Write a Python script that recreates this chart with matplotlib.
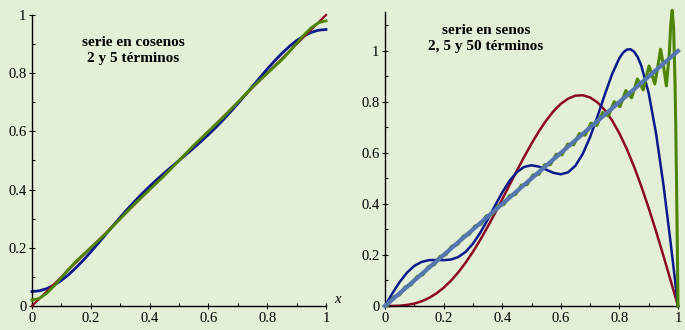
import matplotlib
matplotlib.use("Agg")
import matplotlib.pyplot as plt
from matplotlib.ticker import MultipleLocator

# --- left panel: cosine series of f(x)=x, 2 and 5 terms ---
line_x = [0, 1]
line_y = [0, 1]

cos_x2 = [0, 0.025, 0.05, 0.075, 0.1, 0.125, 0.15, 0.175, 0.2, 0.225, 0.25,
          0.275, 0.3, 0.325, 0.35, 0.375, 0.4, 0.425, 0.45, 0.475, 0.5,
          0.525, 0.55, 0.575, 0.6, 0.625, 0.65, 0.675, 0.7, 0.725, 0.75,
          0.775, 0.8, 0.825, 0.85, 0.875, 0.9, 0.925, 0.95, 0.975, 1]
cos_y2 = [0.0497, 0.0522, 0.0596, 0.0717, 0.0880, 0.1083, 0.1319, 0.1579,
          0.1860, 0.2153, 0.2452, 0.2752, 0.3046, 0.3331, 0.3605, 0.3865,
          0.4112, 0.4346, 0.4570, 0.4787, 0.5, 0.5213, 0.5430, 0.5654,
          0.5888, 0.6135, 0.6395, 0.6669, 0.6954, 0.7248, 0.7548, 0.7847,
          0.8140, 0.8421, 0.8681, 0.8917, 0.9120, 0.9283, 0.9404, 0.9478,
          0.9503]

cos_x5 = [0, 0.025, 0.05, 0.075, 0.1, 0.125, 0.15, 0.2, 0.25, 0.3, 0.35,
          0.4, 0.45, 0.5, 0.55, 0.6, 0.65, 0.7, 0.75, 0.8, 0.85, 0.875,
          0.9, 0.925, 0.95, 0.975, 1]
cos_y5 = [0.0202, 0.0263, 0.0436, 0.0687, 0.0977, 0.1268, 0.1537, 0.2008,
          0.2473, 0.2997, 0.3522, 0.4001, 0.4480, 0.5, 0.5520, 0.5999,
          0.6478, 0.7003, 0.7527, 0.7992, 0.8463, 0.8732, 0.9023, 0.9313,
          0.9564, 0.9737, 0.9798]

# --- right panel: sine series of f(x)=x, 2, 5 and 50 terms ---
sin_x2 = [i / 40 for i in range(41)]
sin_y2 = [0, 0.0002, 0.0012, 0.0041, 0.0096, 0.0185, 0.0315, 0.0490, 0.0715,
          0.0991, 0.1319, 0.1697, 0.2123, 0.2592, 0.3097, 0.3631, 0.4184,
          0.4745, 0.5304, 0.5849, 0.6366, 0.6845, 0.7272, 0.7635, 0.7926,
          0.8132, 0.8248, 0.8264, 0.8178, 0.7985, 0.7685, 0.7278, 0.6769,
          0.6163, 0.5465, 0.4687, 0.3838, 0.2931, 0.1980, 0.0997, 0]

sin_x5 = [0, 0.025, 0.05, 0.075, 0.1, 0.125, 0.15, 0.175, 0.2, 0.225, 0.25,
          0.275, 0.3, 0.325, 0.35, 0.375, 0.4, 0.425, 0.45, 0.475, 0.5,
          0.525, 0.55, 0.575, 0.6, 0.625, 0.65, 0.675, 0.7, 0.725, 0.75,
          0.775, 0.8, 0.8125, 0.825, 0.8375, 0.85, 0.8625, 0.875, 0.9,
          0.925, 0.95, 0.975, 1]
sin_y5 = [0, 0.0493, 0.0940, 0.1308, 0.1572, 0.1730, 0.1798, 0.1805, 0.1798,
          0.1821, 0.1919, 0.2121, 0.2441, 0.2870, 0.3378, 0.3923, 0.4450,
          0.4906, 0.5249, 0.5454, 0.5517, 0.5466, 0.5346, 0.5221, 0.5165,
          0.5241, 0.5502, 0.5967, 0.6625, 0.7426, 0.8285, 0.9092, 0.9723,
          0.9932, 1.0053, 1.0070, 0.9975, 0.9760, 0.9415, 0.8342, 0.6773,
          0.4779, 0.2471, 0]

sin_x50 = [0, 0.0099, 0.0297, 0.0495, 0.0693, 0.0891, 0.1089, 0.1287, 0.1485,
           0.1683, 0.1881, 0.2079, 0.2277, 0.2475, 0.2673, 0.2871, 0.3069,
           0.3267, 0.3465, 0.3663, 0.3861, 0.4059, 0.4257, 0.4455, 0.4653,
           0.4851, 0.5050, 0.5248, 0.5446, 0.5644, 0.5842, 0.6040, 0.6238,
           0.6436, 0.6634, 0.6832, 0.7030, 0.7228, 0.7426, 0.7624, 0.7822,
           0.8020, 0.8218, 0.8416, 0.8515, 0.8614, 0.8713, 0.8812, 0.8911,
           0.9010, 0.9109, 0.9208, 0.9307, 0.9406, 0.9505, 0.9604, 0.9703,
           0.9752, 0.9802, 0.9851, 0.9901, 0.9925, 0.9950, 0.9975, 1.0]
sin_y50 = [0, 0.0036, 0.0360, 0.0432, 0.0756, 0.0827, 0.1153, 0.1223, 0.1550,
           0.1618, 0.1947, 0.2013, 0.2344, 0.2407, 0.2742, 0.2801, 0.3140,
           0.3195, 0.3539, 0.3588, 0.3938, 0.3981, 0.4337, 0.4373, 0.4738,
           0.4764, 0.5140, 0.5155, 0.5542, 0.5544, 0.5946, 0.5932, 0.6351,
           0.6317, 0.6759, 0.6700, 0.7170, 0.7079, 0.7586, 0.7451, 0.8010,
           0.7814, 0.8446, 0.8164, 0.8526, 0.8902, 0.8698, 0.8476, 0.8932,
           0.9412, 0.9078, 0.8707, 0.9357, 1.0068, 0.9412, 0.8632, 0.9912,
           1.1020, 1.1592, 1.0896, 0.8628, 0.6930, 0.4830, 0.2490, 0.0]

BG = "#e3efd6"
RED = "#8c0a22"
BLUE = "#0a1a8c"
GREEN = "#4e8500"
STEEL = "#5576b0"

plt.rcParams["font.family"] = ["Liberation Serif", "DejaVu Serif"]

fig = plt.figure(figsize=(6.85, 3.3), dpi=100, facecolor=BG)
ax1 = fig.add_axes([32 / 685, 24 / 330, 294 / 685, 291 / 330])
ax2 = fig.add_axes([385 / 685, 24 / 330, 293 / 685, 294.3 / 330])


def style(ax, ymax):
    ax.set_facecolor(BG)
    ax.set_xlim(0, 1)
    ax.set_ylim(0, ymax)
    for s in ("top", "right"):
        ax.spines[s].set_visible(False)
    for s in ("left", "bottom"):
        ax.spines[s].set_linewidth(1.0)
        ax.spines[s].set_color("black")
    ax.xaxis.set_major_locator(MultipleLocator(0.2))
    ax.xaxis.set_minor_locator(MultipleLocator(0.1))
    ax.yaxis.set_major_locator(MultipleLocator(0.2))
    ax.yaxis.set_minor_locator(MultipleLocator(0.1))
    ax.xaxis.set_major_formatter(lambda v, p: f"{v:g}")
    ax.yaxis.set_major_formatter(lambda v, p: f"{v:g}")
    ax.tick_params(which="major", direction="inout", length=4, width=0.8,
                   labelsize=10.5, pad=2)
    ax.tick_params(which="minor", direction="in", length=2.5, width=0.8)


style(ax1, 1.0)
ax1.plot(line_x, line_y, color=RED, lw=1.6, clip_on=False, zorder=3)
ax1.plot(cos_x2, cos_y2, color=BLUE, lw=2.0, clip_on=False, zorder=2)
ax1.plot(cos_x5, cos_y5, color=GREEN, lw=2.0, clip_on=False, zorder=4)
ax1.text(0.344, 0.877, "serie en cosenos\n2 y 5 términos", ha="center",
         va="center", fontsize=11, fontweight="bold", linespacing=1.3)
ax1.text(1.04, 0.0, "x", style="italic", fontsize=10.5, ha="center",
         va="bottom", clip_on=False)

style(ax2, 1.154)
ax2.plot(sin_x2, sin_y2, color=RED, lw=1.8, clip_on=False, zorder=2)
ax2.plot(sin_x5, sin_y5, color=BLUE, lw=1.8, clip_on=False, zorder=3)
ax2.plot(sin_x50, sin_y50, color=GREEN, lw=2.2, clip_on=False, zorder=4)
ax2.plot(line_x, line_y, color=STEEL, lw=3.0, clip_on=False, zorder=5)
ax2.text(0.345, 1.047, "serie en senos\n2, 5 y 50 términos", ha="center",
         va="center", fontsize=11, fontweight="bold", linespacing=1.3)

fig.savefig("out.png", dpi=100, facecolor=BG)
